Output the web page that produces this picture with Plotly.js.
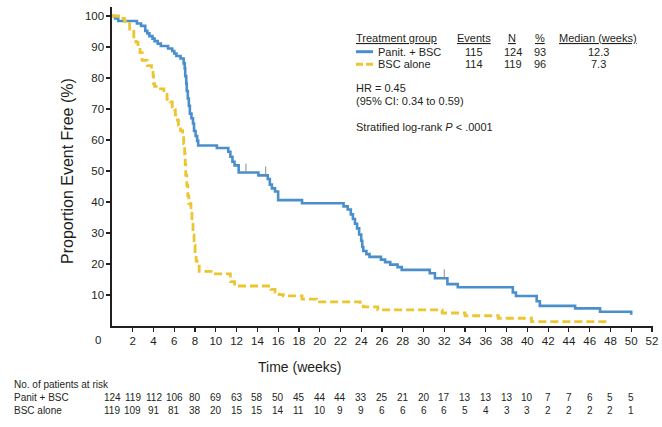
<!DOCTYPE html>
<html>
<head>
<meta charset="utf-8">
<script src="https://cdn.plot.ly/plotly-3.0.1.min.js"></script>
<style>html,body{margin:0;padding:0;background:#fff;}#chart{width:662px;height:427px;}</style>
</head>
<body>
<div id="chart"></div>
<script>
// ---- Kaplan-Meier step data (weeks, % event free) ----
var panitWeeks = [0,0.3,0.6,2.4,2.8,3.2,3.4,3.6,3.9,4.1,4.4,4.7,5.4,5.8,6.0,6.2,6.6,6.9,7.0,7.05,7.15,7.2,7.3,7.4,7.5,7.65,7.8,7.9,8.05,8.2,8.3,10.1,11.2,11.4,11.6,11.8,12.2,14.1,15.0,15.2,15.4,15.7,16.0,18.3,22.3,22.7,23.0,23.2,23.4,23.6,23.8,24.0,24.1,24.2,24.5,24.8,25.9,26.3,26.8,27.5,27.9,30.6,31.1,32.3,33.3,38.6,38.9,40.9,41.2,44.6,47.0,50.0];
var panitPct   = [100,99.2,98.4,97.6,96.8,95.2,94.4,93.5,92.7,91.9,91.1,90.3,89.5,88.7,87.9,87.1,86.3,84.7,83.1,80.6,78.2,75.8,73.4,71.0,68.5,67.0,65.3,62.9,61.3,59.7,58.2,57.4,56.2,54.6,53.0,51.8,49.5,48.6,47.4,45.6,44.4,43.4,40.6,39.6,38.6,37.6,36.0,34.5,33.0,31.5,29.5,27.5,25.5,24.2,23.2,22.3,21.4,20.6,19.8,19.0,18.1,17.0,15.4,13.5,12.5,10.8,9.7,8.0,6.5,5.7,4.6,3.6];

var bscWeeks = [0,0.8,1.2,1.5,1.7,1.9,2.1,2.3,2.5,2.7,2.9,3.4,3.8,3.95,4.0,4.1,4.5,5.0,5.3,5.6,5.8,6.0,6.1,6.3,6.4,6.6,6.8,6.9,7.0,7.05,7.1,7.2,7.3,7.4,7.6,7.7,7.8,7.9,8.0,8.1,8.2,8.4,9.8,11.4,11.8,15.3,15.7,16.1,16.5,18.3,19.7,23.9,24.2,25.6,31.8,34.0,37.2,40.4,48.0];
var bscPct   = [100,99.2,98.3,97.5,95.8,95.0,93.3,91.6,89.9,88.2,85.7,84.0,82.4,80.7,78.2,77.3,76.5,74.8,73.1,72.3,70.6,69.7,68.1,66.4,64.7,63.0,61.3,58.8,55.5,52.1,48.7,45.4,42.0,39.5,37.0,33.6,29.4,26.1,23.5,21.0,19.3,17.6,16.8,14.3,12.9,11.8,10.9,10.1,9.7,8.7,7.8,6.9,6.2,5.2,4.2,3.3,2.5,1.4,1.4];

// censor marks (Panit. + BSC)
var censorWeeks = [12.9,14.8,32.0];
var censorPct   = [49.5,48.6,15.4];

// ---- Risk table ----
var riskWeeks = [0,2,4,6,8,10,12,14,16,18,20,22,24,26,28,30,32,34,36,38,40,42,44,46,48,50];
var riskPanit = [124,119,112,106,80,69,63,58,50,45,44,44,33,25,21,20,17,13,13,13,10,7,7,6,5,5];
var riskBsc   = [119,109,91,81,38,20,15,15,14,11,10,9,9,6,6,6,6,5,4,3,3,2,2,2,2,1];
var riskLabels = ['Panit + BSC','BSC alone'];

// ---- Legend table ----
var groups  = ['Panit. + BSC','BSC alone'];
var events  = ['115','114'];
var nTotal  = ['124','119'];
var pctEv   = ['93','96'];
var medians = ['12.3','7.3'];
var hrLines = ['HR = 0.45','(95% CI: 0.34 to 0.59)'];

var xTicks = [2,4,6,8,10,12,14,16,18,20,22,24,26,28,30,32,34,36,38,40,42,44,46,48,50,52];
var yTicks = [10,20,30,40,50,60,70,80,90,100];

var BLUE = '#4a8fcb', GOLD = '#ebc630';
var FONT = 'Liberation Sans, Arial, sans-serif';

// pixel -> paper helpers (plot area: x 112..653, y 7..326)
var L = 112, T = 7, W = 541, H = 319;
function px(x){ return (x - L) / W; }
function py(y){ return (T + H - y) / H; }

var traces = [
  {x: panitWeeks, y: panitPct, mode: 'lines', line: {shape: 'hv', color: BLUE, width: 2.6}, hoverinfo: 'skip'},
  {x: bscWeeks, y: bscPct, mode: 'lines', line: {shape: 'hv', color: GOLD, width: 2.8, dash: '8px,4px'}, hoverinfo: 'skip'},
  {x: censorWeeks, y: censorPct.map(function(v){return v + 1.3;}), mode: 'markers',
   marker: {symbol: 'line-ns', size: 7, line: {color: '#8a8a8a', width: 1}}, hoverinfo: 'skip'}
];

var ann = [];
function addText(text, x, y, anchor, size, extra){
  var a = {text: text, x: px(x), y: py(y), xref: 'paper', yref: 'paper', showarrow: false,
           xanchor: anchor || 'left', yanchor: 'middle', font: {size: size || 11, family: FONT, color: '#231f20'}};
  if (extra) for (var k in extra) a[k] = extra[k];
  ann.push(a);
}

// axis titles and corner zero
addText('Time (weeks)', 300, 367, 'center', 14);
addText('Proportion Event Free (%)', 67, 171, 'center', 16, {textangle: -90});
addText('0', 98, 340, 'center', 11.5);

// legend table
var hdrY = 38, rowY = [51.7, 64.3];
addText('<u>Treatment group</u>', 354, hdrY, 'left');
addText('<u>Events</u>', 473.5, hdrY, 'center');
addText('<u>N</u>', 512, hdrY, 'center');
addText('<u>%</u>', 540, hdrY, 'center');
addText('<u>Median (weeks)</u>', 597.5, hdrY, 'center');
for (var i = 0; i < groups.length; i++){
  addText(groups[i], 376, rowY[i], 'left');
  addText(events[i], 474, rowY[i], 'center');
  addText(nTotal[i], 512.5, rowY[i], 'center');
  addText(pctEv[i], 539.5, rowY[i], 'center');
  addText(medians[i], 598, rowY[i], 'center');
}
addText(hrLines[0], 354, 88.3, 'left');
addText(hrLines[1], 354, 100.7, 'left');
addText('Stratified log-rank <i>P</i> &lt; .0001', 354, 127.3, 'left');

// risk table
addText('No. of patients at risk', 12, 384, 'left', 10);
var riskRows = [riskPanit, riskBsc], riskY = [397.5, 410.5];
for (var r = 0; r < 2; r++){
  addText(riskLabels[r], 12, riskY[r], 'left', 10);
  for (var j = 0; j < riskWeeks.length; j++){
    ann.push({text: String(riskRows[r][j]), x: riskWeeks[j], xref: 'x', y: py(riskY[r]), yref: 'paper',
              showarrow: false, xanchor: 'center', yanchor: 'middle',
              font: {size: 10, family: FONT, color: '#231f20'}});
  }
}

var shapes = [
  {type: 'line', xref: 'paper', yref: 'paper', x0: px(356), x1: px(373), y0: py(rowY[0]), y1: py(rowY[0]), line: {color: BLUE, width: 3}},
  {type: 'line', xref: 'paper', yref: 'paper', x0: px(356), x1: px(373), y0: py(rowY[1]), y1: py(rowY[1]), line: {color: GOLD, width: 3, dash: '7px,3px'}}
];

var layout = {
  width: 662, height: 427,
  margin: {l: L, r: 662 - L - W, t: T, b: 427 - T - H, pad: 0},
  paper_bgcolor: '#ffffff', plot_bgcolor: '#ffffff',
  showlegend: false,
  font: {family: FONT, color: '#231f20'},
  xaxis: {range: [0, 52.1], tickvals: xTicks, ticktext: xTicks.map(String), showgrid: false, zeroline: false,
          showline: true, linecolor: '#231f20', linewidth: 1.6, ticks: 'outside', ticklen: 4, tickwidth: 1.2,
          tickcolor: '#231f20', tickfont: {size: 11.5, family: FONT, color: '#231f20'}, fixedrange: true},
  yaxis: {range: [0, 102.9], tickvals: yTicks, ticktext: yTicks.map(String), showgrid: false, zeroline: false,
          showline: true, linecolor: '#231f20', linewidth: 1.6, ticks: 'outside', ticklen: 4, tickwidth: 1.2,
          tickcolor: '#231f20', tickfont: {size: 11.5, family: FONT, color: '#231f20'}, fixedrange: true},
  annotations: ann,
  shapes: shapes
};

Plotly.newPlot('chart', traces, layout, {staticPlot: true, displayModeBar: false});
</script>
</body>
</html>
